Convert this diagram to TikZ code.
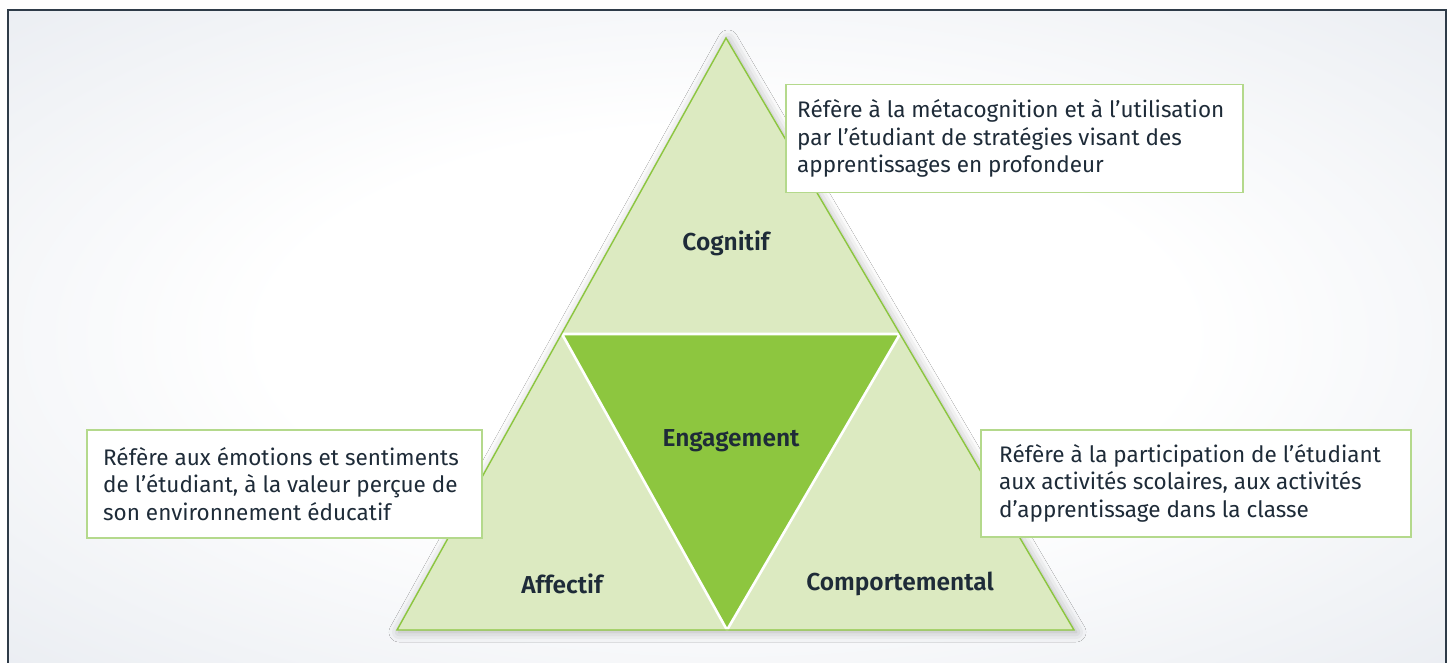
\documentclass[tikz,border=0pt]{standalone}
\usepackage{fontspec}
\setmainfont{Fira Sans}[BoldFont={Fira Sans SemiBold}]
\usetikzlibrary{shadows.blur}

\definecolor{frameline}{HTML}{2E3B48}
\definecolor{bgedge}{HTML}{DCE1E9}
\definecolor{leaf}{HTML}{DCEAC1}
\definecolor{leafline}{HTML}{8CC63F}
\definecolor{core}{HTML}{8DC63F}
\definecolor{boxline}{HTML}{B4D98C}
\definecolor{ink}{HTML}{1E2B38}

% soft glow behind the panel
\pgfdeclareradialshading{backglow}{\pgfpoint{0bp}{0bp}}{%
  color(0bp)=(white); color(16bp)=(white); color(50bp)=(bgedge); color(75bp)=(bgedge)}

\tikzset{
  lbl/.style={font=\fontsize{24.5}{28}\selectfont\bfseries, text=ink, inner sep=0pt},
  notebox/.style={draw=boxline, line width=1.5pt, fill=white, inner sep=0pt, anchor=north west},
  notetext/.style={font=\fontsize{22.5}{27.5}\selectfont, text=ink, align=left, inner sep=0pt, anchor=west},
}

\begin{document}
\begin{tikzpicture}[x=1pt, y=-1pt]
\useasboundingbox (0,0) rectangle (1450,663);
\fill[white!96!bgedge] (0,0) rectangle (1450,663);
\shade[shading=backglow] (8,10) rectangle (1446,663);
\draw[frameline, line width=1.6pt] (8,700) -- (8,10) -- (1446,10) -- (1446,700);

% triangle corners and edge midpoints
\coordinate (apex) at (726,38);
\coordinate (bl) at (397,630);
\coordinate (br) at (1074,630);
\coordinate (ml) at (562,334);
\coordinate (mr) at (900,334);
\coordinate (mb) at (727,630);

\path[fill=leaf, blur shadow={shadow xshift=2pt, shadow yshift=-2pt, shadow blur radius=10pt, shadow opacity=30}]
  (apex) -- (bl) -- (br) -- cycle;
\draw[fill=core, draw=white, line width=2.6pt, line join=bevel] (ml) -- (mr) -- (mb) -- cycle;
\draw[leafline, line width=1.4pt, line join=miter] (apex) -- (bl) -- (br) -- cycle;

\node[lbl] (cog) at (726,243) {Cognitif};
\node[lbl] (eng) at (731,441) {Engagement};
\node[lbl] (aff) at (562,584) {Affectif};
\node[lbl] (comp) at (900,584) {Comportemental};

% description boxes
\node[notebox, minimum width=457pt, minimum height=108pt] (b1) at (785,84) {};
\node[notetext] (t1) at ([xshift=12pt]b1.west)
  {Réfère à la métacognition et à l’utilisation\\par l’étudiant de stratégies visant des\\apprentissages en profondeur};

\node[notebox, minimum width=395pt, minimum height=108pt] (b2) at (86,429) {};
\node[notetext] (t2) at ([xshift=17pt]b2.west)
  {Réfère aux émotions et sentiments\\de l’étudiant, à la valeur perçue de\\son environnement éducatif};

\node[notebox, minimum width=430pt, minimum height=107pt] (b3) at (980,429) {};
\node[notetext] (t3) at ([xshift=19pt]b3.west)
  {Réfère à la participation de l’étudiant\\aux activités scolaires, aux activités\\d’apprentissage dans la classe};
\end{tikzpicture}
\end{document}
